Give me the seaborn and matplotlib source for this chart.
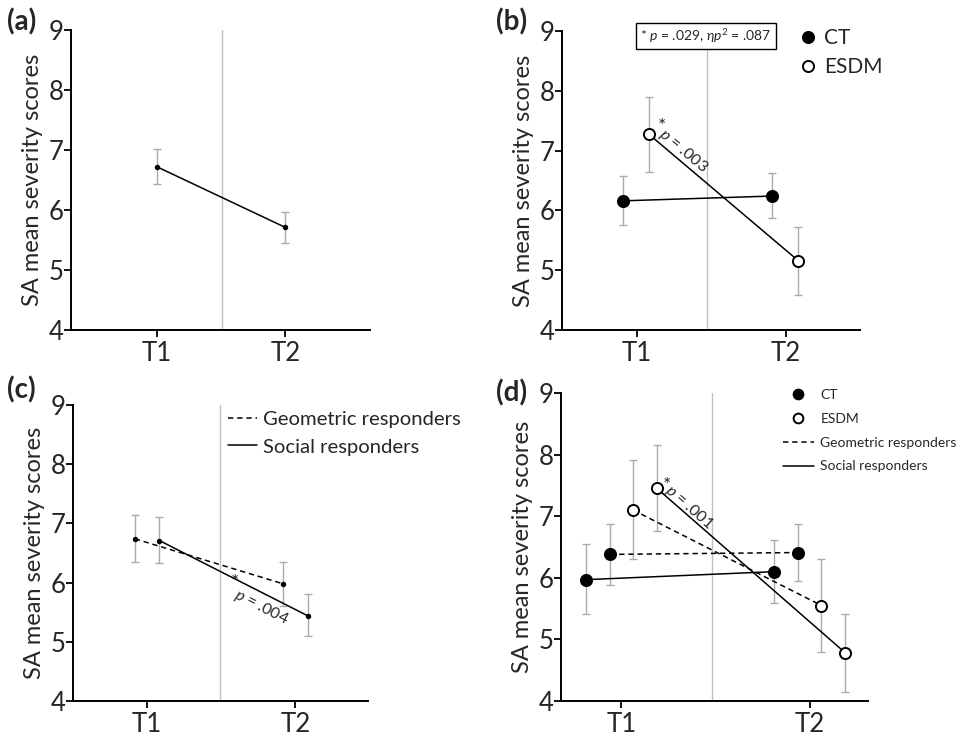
import numpy as np
import matplotlib
matplotlib.use("Agg")
import matplotlib.pyplot as plt
import seaborn as sns
from matplotlib.lines import Line2D

sns.set_theme(style="ticks")
plt.rcParams["font.family"] = ["Lato", "DejaVu Sans"]
plt.rcParams["mathtext.fontset"] = "custom"
plt.rcParams["mathtext.it"] = "Lato:italic"
plt.rcParams["mathtext.rm"] = "Lato"

# ---------------- data ----------------
time_labels = ["T1", "T2"]
y_ticks = [4, 5, 6, 7, 8, 9]

# (a) whole sample
a_mean = [6.72, 5.71]
a_lo = [6.44, 5.45]
a_hi = [7.01, 5.97]

# (b) by intervention
b_ct_mean = [6.16, 6.24]
b_ct_lo = [5.75, 5.87]
b_ct_hi = [6.58, 6.63]
b_esdm_mean = [7.27, 5.16]
b_esdm_lo = [6.64, 4.58]
b_esdm_hi = [7.89, 5.73]

# (c) by responder type
c_geo_mean = [6.74, 5.98]
c_geo_lo = [6.34, 5.60]
c_geo_hi = [7.14, 6.34]
c_soc_mean = [6.71, 5.44]
c_soc_lo = [6.33, 5.09]
c_soc_hi = [7.10, 5.80]

# (d) intervention x responder type
d_ct_soc_mean = [5.97, 6.10]
d_ct_soc_lo = [5.42, 5.59]
d_ct_soc_hi = [6.55, 6.61]
d_ct_geo_mean = [6.38, 6.41]
d_ct_geo_lo = [5.88, 5.95]
d_ct_geo_hi = [6.88, 6.88]
d_esdm_geo_mean = [7.10, 5.55]
d_esdm_geo_lo = [6.30, 4.79]
d_esdm_geo_hi = [7.92, 6.30]
d_esdm_soc_mean = [7.45, 4.78]
d_esdm_soc_lo = [6.76, 4.15]
d_esdm_soc_hi = [8.15, 5.42]

# ---------------- figure ----------------
W, H = 957, 733
fig = plt.figure(figsize=(W / 100, H / 100), dpi=100)


def add_ax(left, right, top, bottom):
    return fig.add_axes([left / W, 1 - bottom / H, (right - left) / W, (bottom - top) / H])


DASH = (0, (3.5, 2.5))
ERR_C = "#ababab"


def draw(ax, means, lo, hi, xoff, ls, marker, face, ms):
    x = np.arange(len(time_labels)) + xoff
    m = np.array(means)
    yerr = [m - np.array(lo), np.array(hi) - m]
    ax.errorbar(x, m, yerr=yerr, fmt="none", ecolor=ERR_C, elinewidth=1.0,
                capsize=3, capthick=1.0, zorder=1)
    sns.lineplot(x=x, y=m, ax=ax, color="black", linestyle=ls, lw=1.1,
                 marker=marker, markersize=ms, markerfacecolor=face,
                 markeredgecolor="black", markeredgewidth=1.4, zorder=3,
                 legend=False, sort=False, errorbar=None)


def style(ax, xlim, vx, vtop=1.0):
    ax.set_xlim(*xlim)
    ax.set_ylim(4, 9)
    ax.set_xticks(range(len(time_labels)))
    ax.set_xticklabels(time_labels)
    ax.set_yticks(y_ticks)
    ax.tick_params(axis="both", labelsize=18.5, width=1.3, length=5, color="black",
                   direction="out")
    ax.tick_params(axis="y", pad=0.5)
    ax.tick_params(axis="x", pad=3)
    for s in ["top", "right"]:
        ax.spines[s].set_visible(False)
    for s in ["left", "bottom"]:
        ax.spines[s].set_linewidth(1.4)
        ax.spines[s].set_color("black")
    ax.axvline(vx, ymin=0, ymax=vtop, color="#c0c0c0", lw=1.0, zorder=0)
    ax.set_ylabel("SA mean severity scores", fontsize=17, labelpad=4)
    ax.set_xlabel("")


PL = dict(fontsize=20, fontweight="bold", va="center")

# ---- (a)
axa = add_ax(71, 370, 30, 330)
draw(axa, a_mean, a_lo, a_hi, 0.0, "-", "o", "black", 2.5)
style(axa, (-0.67, 1.66), 0.51)
fig.text(7 / W, 1 - 22 / H, "(a)", **PL)

# ---- (b)
axb = add_ax(562, 860, 31, 330)
draw(axb, b_ct_mean, b_ct_lo, b_ct_hi, -0.09, "-", "o", "black", 8)
draw(axb, b_esdm_mean, b_esdm_lo, b_esdm_hi, 0.085, "-", "o", "white", 8)
style(axb, (-0.5, 1.5), 0.47, vtop=0.94)
fig.text(496 / W, 1 - 22 / H, "(b)", **PL)
axb.text(0.465, 8.92, r"* $\it{p}$ = .029, $\it{\eta p}^2$ = .087", fontsize=10,
         ha="center", va="center", zorder=5,
         bbox=dict(boxstyle="square,pad=0.3", fc="white", ec="black", lw=1.0),
         clip_on=False)
axb.text(0.17, 7.40, "*", fontsize=14, ha="center", va="center")
axb.text(0.315, 7.0, r"$\it{p}$ = .003", fontsize=11.5, rotation=-40,
         ha="center", va="center", rotation_mode="anchor")
hb = [Line2D([], [], ls="none", marker="o", ms=8, mfc="black", mec="black", mew=1.4),
      Line2D([], [], ls="none", marker="o", ms=8, mfc="white", mec="black", mew=1.4)]
axb.legend(hb, ["CT", "ESDM"], loc="upper left", bbox_to_anchor=(800 / W, 1 - 28 / H),
           bbox_transform=fig.transFigure, frameon=False, fontsize=15, borderpad=0,
           borderaxespad=0, handlelength=0.8, handletextpad=0.35, labelspacing=0.45)

# ---- (c)
axc = add_ax(73, 368, 405, 701)
draw(axc, c_geo_mean, c_geo_lo, c_geo_hi, -0.083, DASH, "o", "black", 2.5)
draw(axc, c_soc_mean, c_soc_lo, c_soc_hi, 0.083, "-", "o", "black", 2.5)
style(axc, (-0.5, 1.49), 0.49)
fig.text(7 / W, 1 - 390 / H, "(c)", **PL)
axc.text(0.59, 6.0, "*", fontsize=14, ha="center", va="center")
axc.text(0.77, 5.58, r"$\it{p}$ = .004", fontsize=11.5, rotation=-27,
         ha="center", va="center", rotation_mode="anchor")
hc = [Line2D([], [], color="black", ls=DASH, lw=1.1),
      Line2D([], [], color="black", ls="-", lw=1.1)]
axc.legend(hc, ["Geometric responders", "Social responders"], loc="upper left",
           bbox_to_anchor=(228 / W, 1 - 411 / H), bbox_transform=fig.transFigure,
           frameon=False, fontsize=14.6, borderpad=0, borderaxespad=0,
           handlelength=1.45, handletextpad=0.3, labelspacing=0.5)

# ---- (d)
axd = add_ax(561, 868, 393, 701)
draw(axd, d_ct_soc_mean, d_ct_soc_lo, d_ct_soc_hi, -0.187, "-", "o", "black", 8)
draw(axd, d_ct_geo_mean, d_ct_geo_lo, d_ct_geo_hi, -0.06, DASH, "o", "black", 8)
draw(axd, d_esdm_geo_mean, d_esdm_geo_lo, d_esdm_geo_hi, 0.063, DASH, "o", "white", 8)
draw(axd, d_esdm_soc_mean, d_esdm_soc_lo, d_esdm_soc_hi, 0.19, "-", "o", "white", 8)
style(axd, (-0.32, 1.31), 0.48)
fig.text(496 / W, 1 - 393 / H, "(d)", **PL)
axd.text(0.243, 7.50, "*", fontsize=14, ha="center", va="center")
axd.text(0.36, 7.14, r"$\it{p}$ = .001", fontsize=11.5, rotation=-41,
         ha="center", va="center", rotation_mode="anchor")
hd = [Line2D([], [], ls="none", marker="o", ms=7, mfc="black", mec="black", mew=1.4),
      Line2D([], [], ls="none", marker="o", ms=7, mfc="white", mec="black", mew=1.4),
      Line2D([], [], color="black", ls=DASH, lw=1.1),
      Line2D([], [], color="black", ls="-", lw=1.1)]
axd.legend(hd, ["CT", "ESDM", "Geometric responders", "Social responders"],
           loc="upper left", bbox_to_anchor=(783 / W, 1 - 389 / H),
           bbox_transform=fig.transFigure, frameon=False, fontsize=10, borderpad=0,
           borderaxespad=0, handlelength=2.2, handletextpad=0.5, labelspacing=0.85)

fig.savefig("out.png", dpi=100)
